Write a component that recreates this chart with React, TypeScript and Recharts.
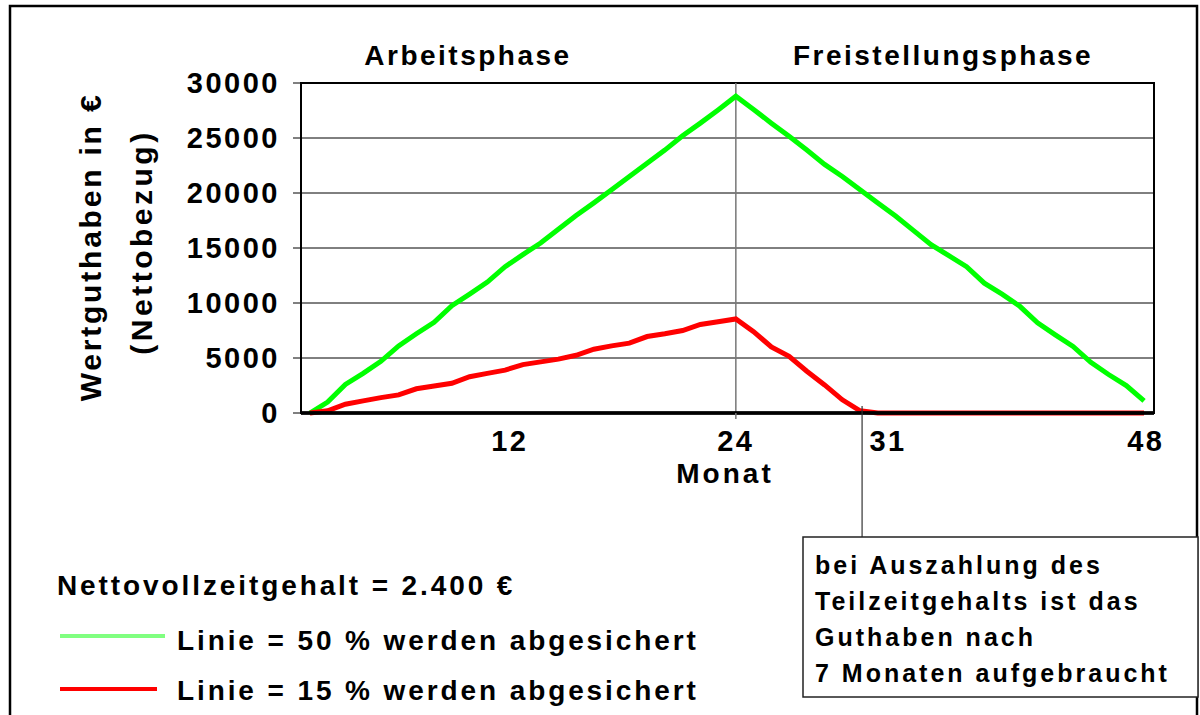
import React from "react";
import {
  CartesianGrid,
  Line,
  LineChart,
  ReferenceArea,
  ReferenceLine,
  XAxis,
  YAxis,
} from "recharts";

const months = [
  0, 1, 2, 3, 4, 5, 6, 7, 8, 9, 10, 11, 12, 13, 14, 15, 16, 17, 18, 19, 20, 21,
  22, 23, 24, 25, 26, 27, 28, 29, 30, 31, 32, 33, 34, 35, 36, 37, 38, 39, 40,
  41, 42, 43, 44, 45, 46, 47,
];

// 50 % abgesichert
const green50 = [
  0, 1000, 2600, 3600, 4700, 6100, 7200, 8250, 9750, 10800, 11900, 13300,
  14400, 15450, 16700, 17950, 19100, 20300, 21500, 22700, 23900, 25200, 26350,
  27550, 28800, 27600, 26350, 25150, 23900, 22600, 21500, 20300, 19100, 17900,
  16600, 15300, 14300, 13300, 11800, 10800, 9700, 8200, 7100, 6050, 4600, 3500,
  2500, 1100,
];

// 15 % abgesichert
const red15 = [
  0, 200, 800, 1100, 1400, 1650, 2200, 2450, 2700, 3300, 3600, 3900, 4400,
  4650, 4900, 5250, 5800, 6100, 6350, 6950, 7200, 7500, 8050, 8300, 8550, 7400,
  6000, 5150, 3800, 2550, 1200, 200, 0, 0, 0, 0, 0, 0, 0, 0, 0, 0, 0, 0, 0, 0,
  0, 0,
];

const yTicks = [0, 5000, 10000, 15000, 20000, 25000, 30000];
const xTicks = [12, 24, 31, 48];

const phaseLabels = ["Arbeitsphase", "Freistellungsphase"];
const yAxisTitle = ["Wertguthaben in €", "(Nettobezug)"];
const xAxisTitle = "Monat";
const legendTitle = "Nettovollzeitgehalt = 2.400 €";
const seriesNames = [
  "Linie = 50 % werden abgesichert",
  "Linie = 15 % werden abgesichert",
];
const noteLines = [
  "bei Auszahlung des",
  "Teilzeitgehalts ist das",
  "Guthaben nach",
  "7 Monaten aufgebraucht",
];

const data = months.map((m, i) => ({
  month: m,
  green: green50[i],
  red: red15[i],
}));

const FONT = '"Liberation Sans", Arial, sans-serif';
const GREEN = "#00ff00";
const RED = "#ff0000";

// nudges for the month labels, as in the original slide
const xLabelShift: Record<number, number> = { 12: -13, 24: 0, 31: 28, 48: -16 };

function MonthTick(props: any) {
  const { x, y, payload } = props;
  const v = payload.value;
  return (
    <g>
      {v === 24 && (
        <line x1={x} x2={x} y1={y} y2={y + 6} stroke="#777" strokeWidth={1.5} />
      )}
      {v === 31 && (
        <line x1={x + 2} x2={x + 2} y1={y - 7} y2={537} stroke="#333" strokeWidth={1.2} />
      )}
      <text
        x={x + (xLabelShift[v] ?? 0)}
        y={y + 38}
        textAnchor="middle"
        fontFamily={FONT}
        fontWeight="bold"
        fontSize={29}
        letterSpacing={2.5}
        fill="#000"
      >
        {v}
      </text>
    </g>
  );
}

function ValueTick(props: any) {
  const { x, y, payload } = props;
  return (
    <text
      x={x + 2}
      y={y}
      dy={10}
      textAnchor="end"
      fontFamily={FONT}
      fontWeight="bold"
      fontSize={29}
      letterSpacing={2.5}
      fill="#000"
    >
      {payload.value}
    </text>
  );
}

const textProps = {
  fontFamily: FONT,
  fontWeight: "bold" as const,
  fill: "#000",
};

export default function App() {
  return (
    <div
      style={{
        position: "absolute",
        left: 0,
        top: 0,
        width: 1200,
        height: 715,
        background: "#fff",
        overflow: "hidden",
      }}
    >
      <LineChart
        width={1200}
        height={715}
        data={data}
        margin={{ top: 83, right: 46, bottom: 272, left: 0 }}
      >
        <CartesianGrid vertical={false} stroke="#000" strokeWidth={1} />
        <ReferenceArea
          x1={-0.5}
          x2={47.56}
          y1={0}
          y2={30000}
          fill="none"
          stroke="#000"
          strokeWidth={2}
        />
        <XAxis
          dataKey="month"
          type="number"
          domain={[-0.5, 47.56]}
          ticks={xTicks}
          interval={0}
          height={30}
          tickSize={0}
          tickMargin={0}
          tickLine={false}
          axisLine={{ stroke: "#000", strokeWidth: 3 }}
          tick={<MonthTick />}
        />
        <YAxis
          type="number"
          domain={[0, 30000]}
          ticks={yTicks}
          interval={0}
          width={301}
          tickSize={8}
          tickMargin={15}
          tickLine={{ stroke: "#000", strokeWidth: 1 }}
          axisLine={{ stroke: "#000", strokeWidth: 2 }}
          tick={<ValueTick />}
        />
        <ReferenceLine x={24} stroke="#777" strokeWidth={1.5} />
        <Line
          type="linear"
          dataKey="green"
          name={seriesNames[0]}
          stroke={GREEN}
          strokeWidth={5}
          dot={false}
          isAnimationActive={false}
        />
        <Line
          type="linear"
          dataKey="red"
          name={seriesNames[1]}
          stroke={RED}
          strokeWidth={5}
          dot={false}
          isAnimationActive={false}
        />
        <ReferenceLine
          y={0}
          stroke="#000"
          strokeWidth={3.5}
          {...({ zIndex: 1000 } as any)}
        />
      </LineChart>

      <svg
        width={1200}
        height={715}
        style={{ position: "absolute", left: 0, top: 0, pointerEvents: "none" }}
      >
        <rect x={10} y={6} width={1187} height={730} fill="none" stroke="#000" strokeWidth={2.5} />

        <text {...textProps} x={468} y={65} fontSize={28} letterSpacing={2.5} textAnchor="middle">
          {phaseLabels[0]}
        </text>
        <text {...textProps} x={943} y={65} fontSize={28} letterSpacing={2.5} textAnchor="middle">
          {phaseLabels[1]}
        </text>

        <text
          {...textProps}
          x={90}
          y={247}
          fontSize={30}
          letterSpacing={2.8}
          textAnchor="middle"
          dominantBaseline="central"
          transform="rotate(-90 90 247)"
        >
          {yAxisTitle[0]}
        </text>
        <text
          {...textProps}
          x={141}
          y={242}
          fontSize={30}
          letterSpacing={3.5}
          textAnchor="middle"
          dominantBaseline="central"
          transform="rotate(-90 141 242)"
        >
          {yAxisTitle[1]}
        </text>

        <text {...textProps} x={725} y={483} fontSize={28} letterSpacing={3} textAnchor="middle">
          {xAxisTitle}
        </text>

        {/* legend */}
        <text {...textProps} x={57} y={595} fontSize={28} letterSpacing={2.9}>
          {legendTitle}
        </text>
        <line x1={60} x2={165} y1={636} y2={636} stroke="#80ff80" strokeWidth={4} />
        <text {...textProps} x={177} y={650} fontSize={28} letterSpacing={2.9}>
          {seriesNames[0]}
        </text>
        <line x1={60} x2={157} y1={689} y2={689} stroke={RED} strokeWidth={4} />
        <text {...textProps} x={177} y={700} fontSize={28} letterSpacing={2.9}>
          {seriesNames[1]}
        </text>

        {/* note box */}
        <rect x={803} y={537} width={395} height={160} fill="#fff" stroke="#222" strokeWidth={1.5} />
        {noteLines.map((line, i) => (
          <text
            key={line}
            {...textProps}
            x={815}
            y={574 + i * 36}
            fontSize={25}
            letterSpacing={3}
          >
            {line}
          </text>
        ))}
      </svg>
    </div>
  );
}
